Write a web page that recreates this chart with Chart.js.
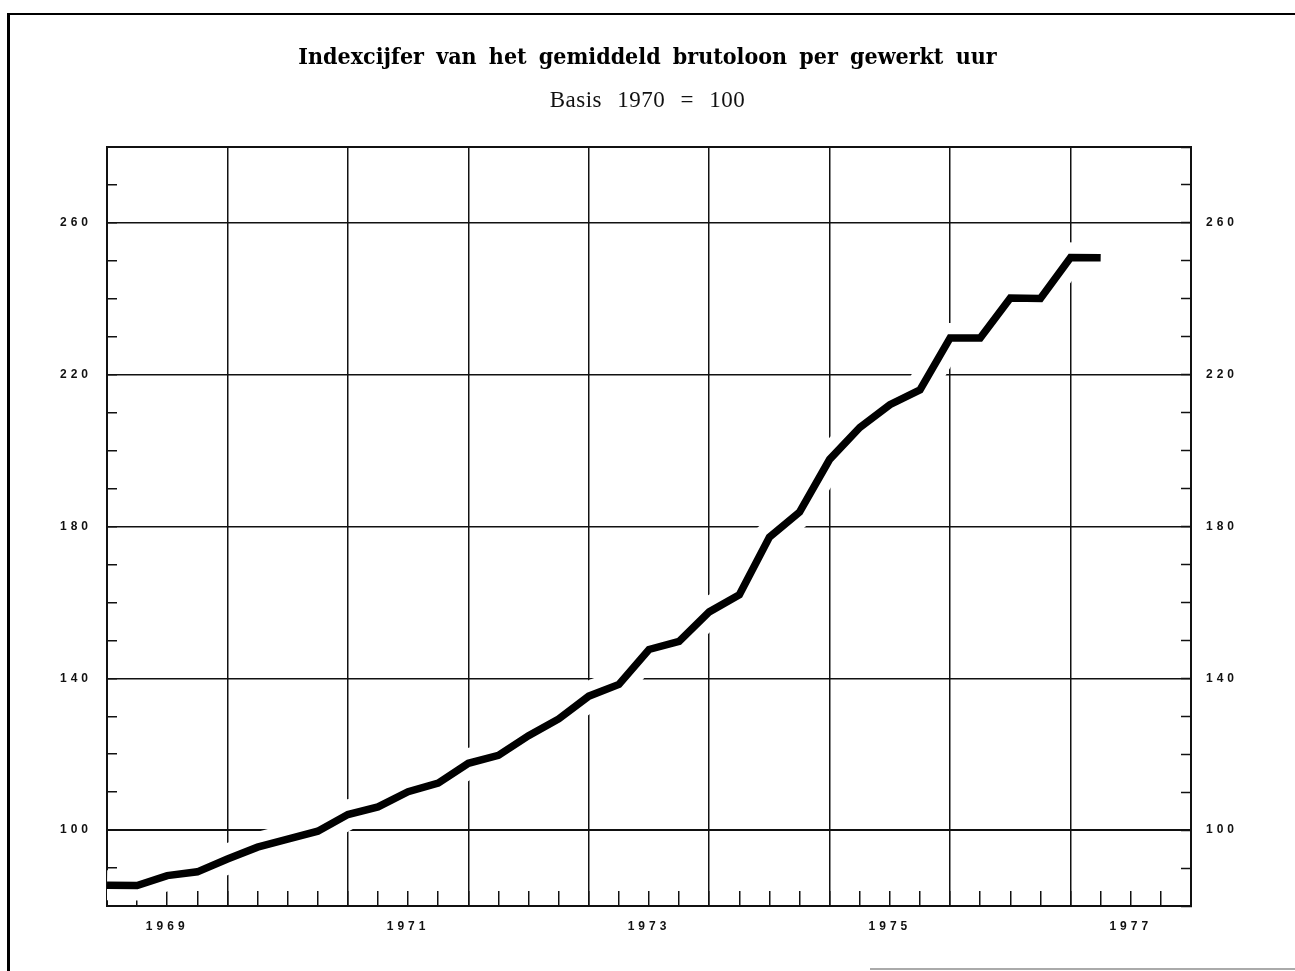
<!DOCTYPE html>
<html>
<head>
<meta charset="utf-8">
<script src="https://cdn.jsdelivr.net/npm/chart.js@4.4.1/dist/chart.umd.min.js"></script>
<style>
  body { margin: 0; background: #fff; }
  #wrap { position: relative; width: 1295px; height: 971px; overflow: hidden; }
  #frame { position: absolute; left: 7px; top: 13px; width: 1400px; height: 1000px;
           border-top: 2px solid #000; border-left: 3px solid #000; }
  #scrap { position: absolute; left: 870px; top: 968px; width: 425px; height: 2px; background: #aaa; }
  #title { position: absolute; left: 0; top: 42px; width: 1295px; text-align: center;
           font: bold 23px "DejaVu Serif Condensed", "DejaVu Serif", serif; line-height: 27px;
           word-spacing: 5px; color: #000; }
  #subtitle { position: absolute; left: 0; top: 86px; width: 1295px; text-align: center;
              font: 23px "Liberation Serif", serif; line-height: 27px; word-spacing: 9px;
              letter-spacing: 0.5px; color: #111; }
  canvas { position: absolute; left: 0; top: 0; }
</style>
</head>
<body>
<div id="wrap">
  <div id="frame"></div>
  <div id="scrap"></div>
  <canvas id="chart" width="1295" height="971"></canvas>
  <div id="title">Indexcijfer van het gemiddeld brutoloon per gewerkt uur</div>
  <div id="subtitle">Basis 1970 = 100</div>
</div>
<script>
// quarterly points, x in years
const periods = [
  1969.00, 1969.25, 1969.50, 1969.75,
  1970.00, 1970.25, 1970.50, 1970.75,
  1971.00, 1971.25, 1971.50, 1971.75,
  1972.00, 1972.25, 1972.50, 1972.75,
  1973.00, 1973.25, 1973.50, 1973.75,
  1974.00, 1974.25, 1974.50, 1974.75,
  1975.00, 1975.25, 1975.50, 1975.75,
  1976.00, 1976.25, 1976.50, 1976.75,
  1977.00, 1977.25
];
const indexValues = [
  85.5, 85.4, 88.0, 89.0,
  92.4, 95.5, 97.6, 99.7,
  104.1, 106.1, 110.1, 112.4,
  117.6, 119.7, 124.9, 129.3,
  135.3, 138.4, 147.6, 149.7,
  157.5, 162.0, 177.2, 183.8,
  197.7, 206.1, 212.1, 216.0,
  229.7, 229.7, 240.2, 240.1,
  250.9, 250.8
];
const yearLabels = ["1969", "1971", "1973", "1975", "1977"];
const yLabelValues = [100, 140, 180, 220, 260];

const INK = "#111";
const tickFont = { family: "'Liberation Sans', Arial, sans-serif", size: 12, weight: "bold" };
const points = periods.map((p, i) => ({ x: p, y: indexValues[i] }));

const yearTick = (value) => {
  const year = Math.floor(value);
  return (value - year === 0.5 && yearLabels.includes(String(year))) ? String(year) : "";
};
const yTick = (value) => yLabelValues.includes(value) ? String(value) : "";

const textSpacing = {
  id: "textSpacing",
  beforeDraw(chart) { chart.ctx.letterSpacing = "4px"; }
};
const topBorder = {
  id: "topBorder",
  beforeDatasetsDraw(chart) {
    const { ctx, chartArea } = chart;
    ctx.save();
    ctx.strokeStyle = INK;
    ctx.lineWidth = 2;
    ctx.beginPath();
    ctx.moveTo(chartArea.left - 1, chartArea.top);
    ctx.lineTo(chartArea.right + 1, chartArea.top);
    ctx.stroke();
    ctx.restore();
  }
};

new Chart(document.getElementById("chart").getContext("2d"), {
  type: "line",
  data: {
    datasets: [
      {
        data: points,
        borderColor: "#000",
        borderWidth: 7.5,
        borderJoinStyle: "miter",
        borderCapStyle: "butt",
        pointRadius: 0,
        tension: 0
      },
      {
        // white band under the curve: breaks the grid lines where it crosses
        data: points,
        borderColor: "#fff",
        borderWidth: 30,
        borderCapStyle: "butt",
        pointRadius: 0,
        tension: 0
      }
    ]
  },
  options: {
    responsive: false,
    animation: false,
    devicePixelRatio: 1,
    layout: { padding: { top: 147, left: 0, right: 0, bottom: 0 } },
    plugins: { legend: { display: false }, tooltip: { enabled: false } },
    scales: {
      x: {
        type: "linear",
        position: "bottom",
        min: 1969,
        max: 1978,
        afterFit: (scale) => { scale.height = 65; },
        ticks: {
          stepSize: 0.25,
          autoSkip: false,
          maxRotation: 0,
          padding: 28,
          color: INK,
          font: tickFont,
          callback: yearTick
        },
        grid: {
          color: (ctx) => Number.isInteger(ctx.tick.value) ? INK : "transparent",
          lineWidth: 1.5,
          tickColor: INK,
          tickWidth: 1.5,
          tickLength: -15
        },
        border: { color: INK, width: 2 }
      },
      y: {
        position: "left",
        min: 80,
        max: 280,
        afterFit: (scale) => { scale.width = 107; },
        ticks: {
          stepSize: 10,
          autoSkip: false,
          padding: 25,
          color: INK,
          font: tickFont,
          callback: yTick
        },
        grid: {
          color: (ctx) => yLabelValues.includes(ctx.tick.value) ? INK : "transparent",
          lineWidth: (ctx) => ctx.tick.value === 100 ? 2 : 1.5,
          tickColor: INK,
          tickWidth: 1.5,
          tickLength: -10
        },
        border: { color: INK, width: 2 }
      },
      y2: {
        position: "right",
        min: 80,
        max: 280,
        afterFit: (scale) => { scale.width = 104; },
        ticks: {
          stepSize: 10,
          autoSkip: false,
          padding: 25,
          color: INK,
          font: tickFont,
          callback: yTick
        },
        grid: {
          drawOnChartArea: false,
          tickColor: INK,
          tickWidth: 1.5,
          tickLength: -10
        },
        border: { color: INK, width: 2 }
      }
    }
  },
  plugins: [textSpacing, topBorder]
});
</script>
</body>
</html>
